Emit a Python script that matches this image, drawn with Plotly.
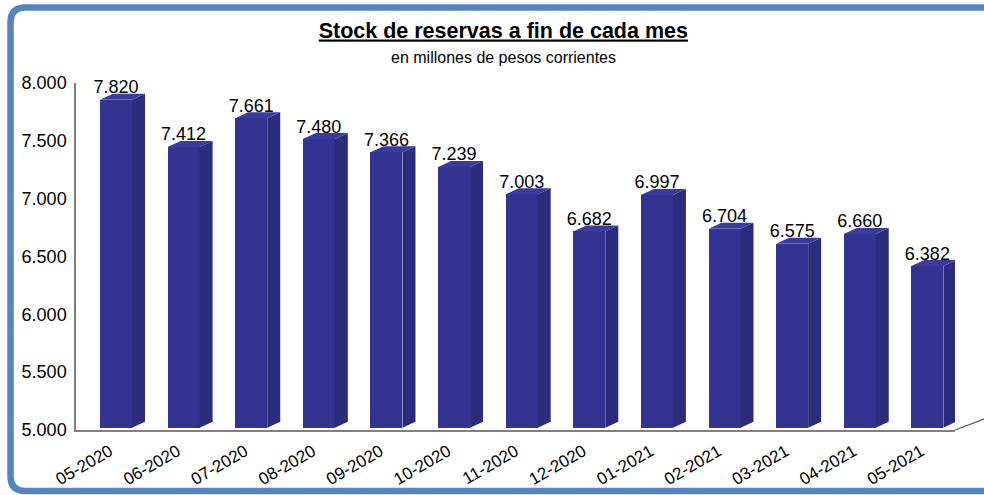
import plotly.graph_objects as go

# ---- data ----
months = ["05-2020", "06-2020", "07-2020", "08-2020", "09-2020", "10-2020", "11-2020",
          "12-2020", "01-2021", "02-2021", "03-2021", "04-2021", "05-2021"]
stock = [7820, 7412, 7661, 7480, 7366, 7239, 7003, 6682, 6997, 6704, 6575, 6660, 6382]
y_ticks = [5000, 5500, 6000, 6500, 7000, 7500, 8000]

# ---- geometry / style constants ----
W, H = 984, 495
ML, MR, MT, MB = 76, 29, 83, 65
PW, PH = W - ML - MR, H - MT - MB
YMIN, YMAX = 5000, 8000
px_per_unit = PH / (YMAX - YMIN)

FRONT_L = -0.145      # front face left offset (category units)
FRONT_W = 0.473       # front face width
DX = 13 / (PW / 13)   # depth offset in category units
DY = 6 / px_per_unit  # depth offset in value units
BASE = YMIN + 20
TOP_ADD = 35
LABEL_ADD = TOP_ADD + 11 / px_per_unit

FRONT_C = "#333392"
SIDE_C = "#2C2C7C"
TOP_C = "#3B3B9E"
FONT = "Liberation Sans, Arial, sans-serif"

idx = list(range(len(months)))
tops = [v + TOP_ADD for v in stock]

fig = go.Figure()

# front faces
fig.add_trace(go.Bar(
    x=idx, y=[t - BASE for t in tops], base=BASE,
    width=FRONT_W, offset=FRONT_L,
    marker=dict(color=FRONT_C, line=dict(width=0)),
    hoverinfo="skip", showlegend=False,
))

# side faces
sx, sy = [], []
for i, t in zip(idx, tops):
    r = i + FRONT_L + FRONT_W
    sx += [r, r + DX, r + DX, r, r, None]
    sy += [BASE, BASE + DY, t + DY, t, BASE, None]
fig.add_trace(go.Scatter(x=sx, y=sy, mode="lines", fill="toself", fillcolor=SIDE_C,
                         line=dict(width=0, color=SIDE_C), hoverinfo="skip", showlegend=False))

# top faces
tx, ty = [], []
for i, t in zip(idx, tops):
    l = i + FRONT_L
    r = l + FRONT_W
    tx += [l, r, r + DX, l + DX, l, None]
    ty += [t, t, t + DY, t + DY, t, None]
fig.add_trace(go.Scatter(x=tx, y=ty, mode="lines", fill="toself", fillcolor=TOP_C,
                         line=dict(width=0, color=TOP_C), hoverinfo="skip", showlegend=False))

# value labels
labels = [f"{v:,}".replace(",", ".") for v in stock]
fig.add_trace(go.Scatter(
    x=[i + FRONT_L + FRONT_W / 2 for i in idx],
    y=[v + LABEL_ADD for v in stock],
    mode="text", text=labels, textposition="middle center",
    textfont=dict(family=FONT, size=18, color="#000000"),
    hoverinfo="skip", showlegend=False, cliponaxis=False,
))

# frame (rounded, open to the right)
def px(x):
    return (x - ML) / PW

def py(y):
    return (H - MB - y) / PH

L, T, B, R = 10.5, 7.5, 491.0, 1000.0
rad = 15
path = (f"M {px(R)},{py(T)} L {px(L + rad)},{py(T)} Q {px(L)},{py(T)} {px(L)},{py(T + rad)} "
        f"L {px(L)},{py(B - rad)} Q {px(L)},{py(B)} {px(L + rad)},{py(B)} L {px(R)},{py(B)}")

shapes = [
    dict(type="path", xref="paper", yref="paper", path=path,
         line=dict(color="#5683C1", width=6.5), layer="above"),
    dict(type="line", xref="paper", yref="paper",
         x0=1, y0=0, x1=1 + 29 / PW, y1=11 / PH,
         line=dict(color="#555555", width=1.2)),
]

fig.update_layout(
    template="none",
    width=W, height=H, autosize=False,
    margin=dict(l=ML, r=MR, t=MT, b=MB, pad=0),
    paper_bgcolor="white", plot_bgcolor="white",
    separators=",.",
    bargap=0,
    shapes=shapes,
    title=dict(
        text="<b><u>Stock de reservas a fin de cada mes</u></b>",
        x=0.5115, xanchor="center", y=1 - 30 / H, yanchor="middle",
        font=dict(family=FONT, size=21.5, color="#000000"),
    ),
    annotations=[dict(
        text="en millones de pesos corrientes", xref="paper", yref="paper",
        x=px(503), y=py(57), xanchor="center", yanchor="middle", showarrow=False,
        font=dict(family=FONT, size=16, color="#000000"),
    )],
    xaxis=dict(
        range=[-0.5, len(months) - 0.5], tickmode="array", tickvals=idx, ticktext=months,
        tickangle=-30, tickfont=dict(family=FONT, size=17, color="#000000"),
        showgrid=False, zeroline=False, showline=True, linecolor="#808080", linewidth=2,
        ticks="outside", ticklen=3, tickcolor="rgba(0,0,0,0)",
        automargin=False, fixedrange=True,
    ),
    yaxis=dict(
        range=[YMIN, YMAX], tickmode="array", tickvals=y_ticks, tickformat=",d",
        tickfont=dict(family=FONT, size=18, color="#000000"),
        showgrid=False, zeroline=False, showline=True, linecolor="#808080", linewidth=1.5,
        ticks="", ticklabelstandoff=4, automargin=False, fixedrange=True,
    ),
    showlegend=False,
)

fig.write_html("out.html", config={"displayModeBar": False},
               post_script="document.body.style.margin='0';document.body.style.overflow='hidden';")
